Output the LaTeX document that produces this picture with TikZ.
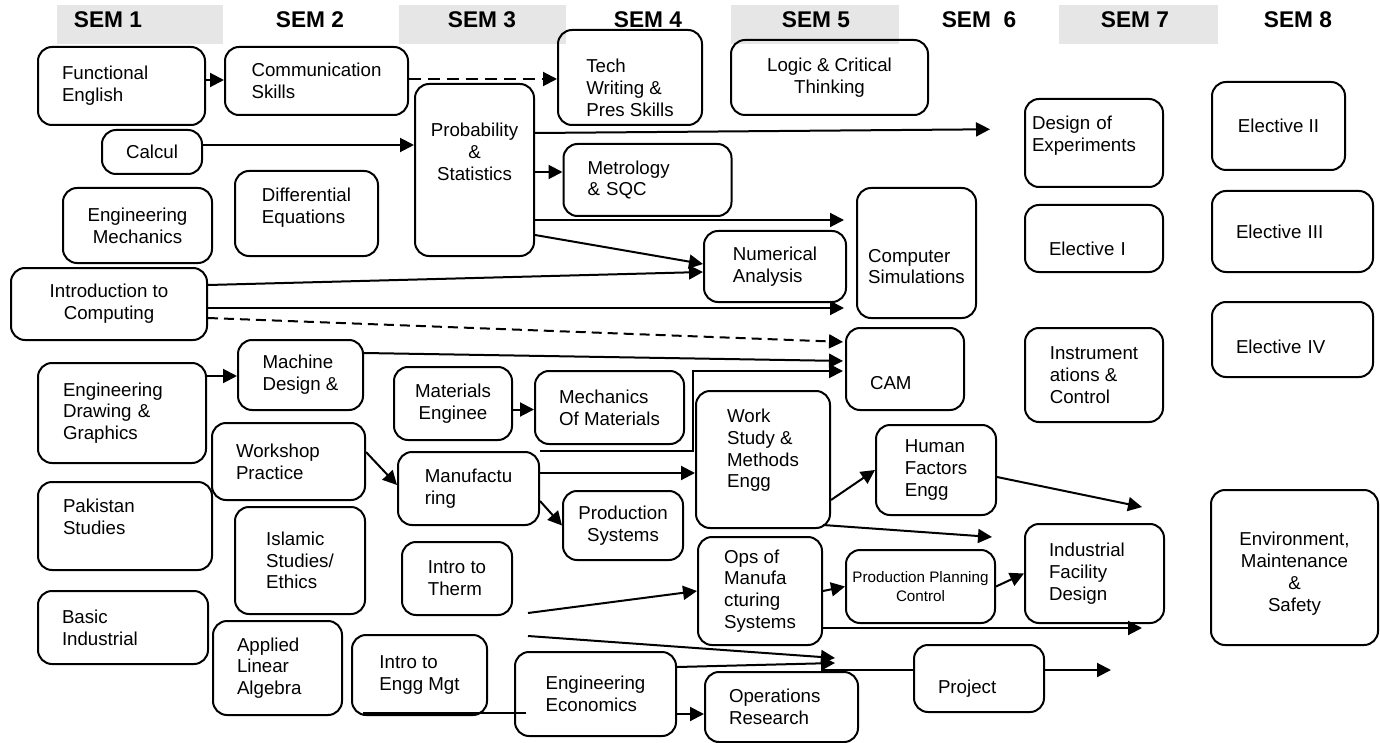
\documentclass[tikz,border=0pt]{standalone}
\usepackage{fontspec}
\setmainfont{Liberation Sans}
\usetikzlibrary{arrows.meta,calc}
\definecolor{band}{RGB}{230,230,230}
\definecolor{ink}{RGB}{0,0,0}
\newcommand{\lift}[1]{\rule[-#1]{0pt}{0pt}}% pushes a label up
\newcommand{\drop}[1]{\rule{0pt}{#1}}% pushes a label down
\tikzset{
  >={Triangle[length=7pt,width=7pt]},
  course/.style={draw=ink,line width=1pt,rounded corners=7pt,align=left,
    inner sep=2pt,font=\fontsize{9.35}{10.9}\selectfont},
  ccourse/.style={course,align=center},
  padded/.style={inner xsep=12pt,text width=#1},
  flow/.style={->,line width=1pt,draw=ink},
  dflow/.style={flow,dash pattern=on 6pt off 3.5pt},
  link/.style={line width=1pt,draw=ink},
  sem/.style={font=\fontsize{11.35}{12}\selectfont\bfseries},
}

\begin{document}
\begin{tikzpicture}[x=0.5pt,y=-0.5pt]
  \useasboundingbox (0,0) rectangle (1380,743);
  % semester header
  \fill[band] (57,5) rectangle (223,44);
  \fill[band] (399,5) rectangle (566,44);
  \fill[band] (731,5) rectangle (899,44);
  \fill[band] (1059,5) rectangle (1218,44);
  \node[sem] (s1) at (108,20) {SEM 1};
  \node[sem] (s2) at (310,20) {SEM 2};
  \node[sem] (s3) at (482,20) {SEM 3};
  \node[sem] (s4) at (648,20) {SEM 4};
  \node[sem] (s5) at (816,20) {SEM 5};
  \node[sem] (s6) at (979,20) {SEM\ \ 6};
  \node[sem] (s7) at (1135,20) {SEM 7};
  \node[sem] (s8) at (1298,20) {SEM 8};

  % sem 1
  \node[course,minimum width=83.5pt,minimum height=39pt,padded=59.5pt] (fe) at (121.5,86) {Functional\\English};
  \node[course,minimum width=50pt,minimum height=22pt] (calc) at (152,152) {Calcul};
  \node[ccourse,minimum width=74.5pt,minimum height=37.5pt] (em) at (137.5,225.5) {Engineering\\Mechanics};
  \node[ccourse,minimum width=98pt,minimum height=36pt] (ic) at (109,304) {Introduction to\\Computing};
  \node[course,minimum width=84pt,minimum height=50pt,padded=59pt] (edg) at (122,413) {Engineering\\Drawing \&\\Graphics};
  \node[course,minimum width=87pt,minimum height=44pt,padded=62pt] (pak) at (125,526) {Pakistan\\Studies\lift{9pt}};
  \node[course,minimum width=85pt,minimum height=36.5pt,padded=61pt] (bi) at (123,627.5) {Basic\\Industrial};
  % sem 2
  \node[course,minimum width=91.5pt,minimum height=34pt] (comm) at (316.5,81) {Communication\\Skills};
  \node[course,minimum width=71.5pt,minimum height=42.5pt] (diffeq) at (306.5,213.5) {Differential\\Equations\lift{8pt}};
  \node[course,minimum width=62.5pt,minimum height=35pt] (mdes) at (300.5,375) {Machine\\Design \&};
  \node[course,minimum width=76.5pt,minimum height=38.5pt,padded=52.5pt] (wshop) at (288.5,461.5) {Workshop\\Practice};
  \node[course,minimum width=65pt,minimum height=53.5pt] (isl) at (300,560.5) {Islamic\\Studies/\\Ethics};
  \node[course,minimum width=64.5pt,minimum height=47pt,padded=40.5pt] (ala) at (277.5,668) {Applied\\Linear\\Algebra};
  % sem 3
  \node[ccourse,minimum width=59.5pt,minimum height=86pt] (prob) at (474.5,170) {Probability\\\&\\Statistics\lift{18pt}};
  \node[ccourse,minimum width=59pt,minimum height=36.5pt] (mate) at (453,403.5) {Materials\\Enginee};
  \node[course,minimum width=70.5pt,minimum height=36.5pt] (manu) at (468.5,488.5) {Manufactu\\ring};
  \node[course,minimum width=55pt,minimum height=36.5pt] (itt) at (457,578.5) {Intro to\\Therm};
  \node[course,minimum width=67.5pt,minimum height=40pt] (iem) at (419.5,675) {Intro to\\Engg Mgt};
  % sem 4
  \node[course,minimum width=72pt,minimum height=47.5pt] (tech) at (630,77.5) {\drop{17pt}Tech\\Writing \&\\Pres Skills};
  \node[course,minimum width=83.5pt,minimum height=36pt,padded=60pt] (metro) at (647.5,180) {Metrology\\\& SQC};
  \node[course,minimum width=74.5pt,minimum height=36.5pt] (mom) at (609.5,407.5) {Mechanics\\Of Materials};
  \node[ccourse,minimum width=60pt,minimum height=34.5pt] (prodsys) at (623,525.5) {Production\\Systems};
  \node[course,minimum width=80.5pt,minimum height=42pt] (econ) at (595.5,694) {Engineering\\Economics};
  % sem 5
  \node[ccourse,minimum width=98.5pt,minimum height=37.5pt] (logic) at (829.5,77.5) {Logic \& Critical\\Thinking};
  \node[course,minimum width=71pt,minimum height=35.5pt] (numan) at (775,266.5) {Numerical\\Analysis};
  \node[course,minimum width=67pt,minimum height=68.5pt] (wsm) at (763,459.5) {Work\\Study \&\\Methods\\Engg\lift{11pt}};
  \node[course,minimum width=62pt,minimum height=54pt] (ops) at (760,591) {Ops of\\Manufa\\cturing\\Systems};
  \node[course,minimum width=76.5pt,minimum height=35pt,padded=52.5pt] (opres) at (781.5,707) {Operations\\Research};
  % sem 6
  \node[course,minimum width=59.5pt,minimum height=65pt] (csim) at (916.5,253) {\drop{20pt}Computer\\Simulations};
  \node[course,minimum width=59pt,minimum height=41pt,padded=35pt] (cam) at (905,369) {\drop{21pt}CAM};
  \node[course,minimum width=60pt,minimum height=45pt] (hfe) at (936,470) {Human\\Factors\\Engg};
  \node[ccourse,minimum width=74.5pt,minimum height=36.5pt,inner xsep=1pt,
    font=\fontsize{7.6}{9.5}\selectfont] (ppc) at (920.5,586.5) {Production Planning\\Control};
  \node[course,minimum width=65pt,minimum height=33.5pt,padded=41pt] (proj) at (979,678.5) {\drop{17pt}Project};
  % sem 7
  \node[course,minimum width=69pt,minimum height=44pt,inner xsep=3.5pt,text width=62pt] (doe) at (1094,143) {Design of\\Experiments\lift{9pt}};
  \node[course,minimum width=69pt,minimum height=33.5pt,padded=45pt] (el1) at (1094,238.5) {\drop{17pt}Elective I};
  \node[course,minimum width=69pt,minimum height=47pt] (instr) at (1094,375) {Instrument\\ations \&\\Control};
  \node[course,minimum width=69.5pt,minimum height=49.5pt,padded=45.5pt] (ifd) at (1094.5,573.5) {Industrial\\Facility\\Design};
  % sem 8
  \node[course,minimum width=66.5pt,minimum height=44pt] (el2) at (1278.5,126) {Elective II};
  \node[course,minimum width=80.5pt,minimum height=40.5pt,padded=56.5pt] (el3) at (1292.5,231.5) {Elective III};
  \node[course,minimum width=80.5pt,minimum height=37.5pt,padded=56.5pt] (el4) at (1292.5,339.5) {\drop{14pt}Elective IV};
  \node[ccourse,minimum width=83.5pt,minimum height=77.5pt] (ems) at (1294.5,567.5) {\drop{13pt}Environment,\\Maintenance\\\&\\Safety};

  % loose ends
  \coordinate (hfout) at (1142,507);
  \coordinate (wsout) at (992,537);
  \coordinate (opsout) at (1142,628);
  \coordinate (t1) at (528,613);
  \coordinate (t2) at (528,636);
  \coordinate (jn1) at (835,658);
  \coordinate (jn2) at (835,663);
  \coordinate (jn) at (821,670);
  \coordinate (projout) at (1111,670);

  % prerequisites
  \draw[dflow] ([yshift=3pt]fe.east) -- ([yshift=3pt]fe.east -| comm.west);
  \draw[dflow] ([yshift=1pt]comm.east) -- ([yshift=1pt]comm.east -| tech.west);
  \draw[flow] ([yshift=3.5pt]calc.east) -- ([yshift=3.5pt]calc.east -| prob.west);
  \draw[flow,shorten >=17pt] ([yshift=18.5pt]prob.east) -- ([yshift=7pt]doe.west);
  \draw[flow] ([yshift=4pt]metro.west -| prob.east) -- ([yshift=4pt]metro.west);
  \draw[flow,shorten >=6pt] ([yshift=16.5pt]csim.west -| prob.east) -- ([yshift=16.5pt]csim.west);
  \draw[flow] ([yshift=-32.5pt]prob.east) -- ([yshift=1.25pt]numan.west);
  \draw[flow] ([yshift=9.5pt]ic.east) -- ([yshift=-2.75pt]numan.west);
  \draw[flow,shorten >=6pt] ([yshift=-2pt]ic.east) -- ([yshift=-2pt]ic.east -| csim.west);
  \draw[dflow,dash pattern=on 5pt off 3pt,shorten >=1pt] ([yshift=-7pt]ic.east) -- ([yshift=13.5pt]cam.west);
  \draw[flow,shorten >=1pt] ([yshift=11pt]mdes.east) -- ([yshift=4pt]cam.west);
  \draw[flow,shorten >=1pt] (manu.north east) -- ([xshift=4pt]mom.east |- manu.north) |- ([yshift=-1pt]cam.west);
  \draw[flow] ([yshift=18.5pt]edg.east) -- ([yshift=18.5pt]edg.east -| mdes.west);
  \draw[flow] ([yshift=4.75pt]wshop.east) -- ([yshift=1.75pt]manu.west);
  \draw[flow] ([yshift=-3pt]mate.east) -- ([yshift=-3pt]mate.east -| mom.west);
  \draw[flow] ([yshift=7.75pt]manu.east) -- ([yshift=7.75pt]manu.east -| wsm.west);
  \draw[flow] ([yshift=-6.25pt]manu.east) -- (prodsys.west);
  \draw[flow] ([yshift=-20.25pt]wsm.east) -- (hfe.west);
  \draw[flow] ([yshift=-3.5pt]hfe.east) -- (hfout);
  \draw[flow] ([xshift=-4pt,yshift=2pt]wsm.south east) -- (wsout);
  \draw[flow] (ops.east) -- (ppc.west);
  \draw[flow] (ppc.east) -- (ifd.west);
  \draw[flow] ([yshift=-18.5pt]ops.east) -- (opsout);
  \draw[flow] (t1) -- (ops.west);
  \draw[flow] (t2) -- (jn1);
  \draw[flow] ([yshift=13.5pt]econ.east) -- (jn2);
  \draw[link] (jn) -- (jn -| proj.west);
  \draw[flow] ([yshift=4.25pt]proj.east) -- (projout);
  \draw[link] ([xshift=6pt,yshift=1.5pt]iem.south west) -- ([xshift=6pt,yshift=1.5pt]iem.south west -| econ.west);
  \draw[flow] ([yshift=-10pt]econ.east) -- ([yshift=-10pt]econ.east -| opres.west);
\end{tikzpicture}
\end{document}
